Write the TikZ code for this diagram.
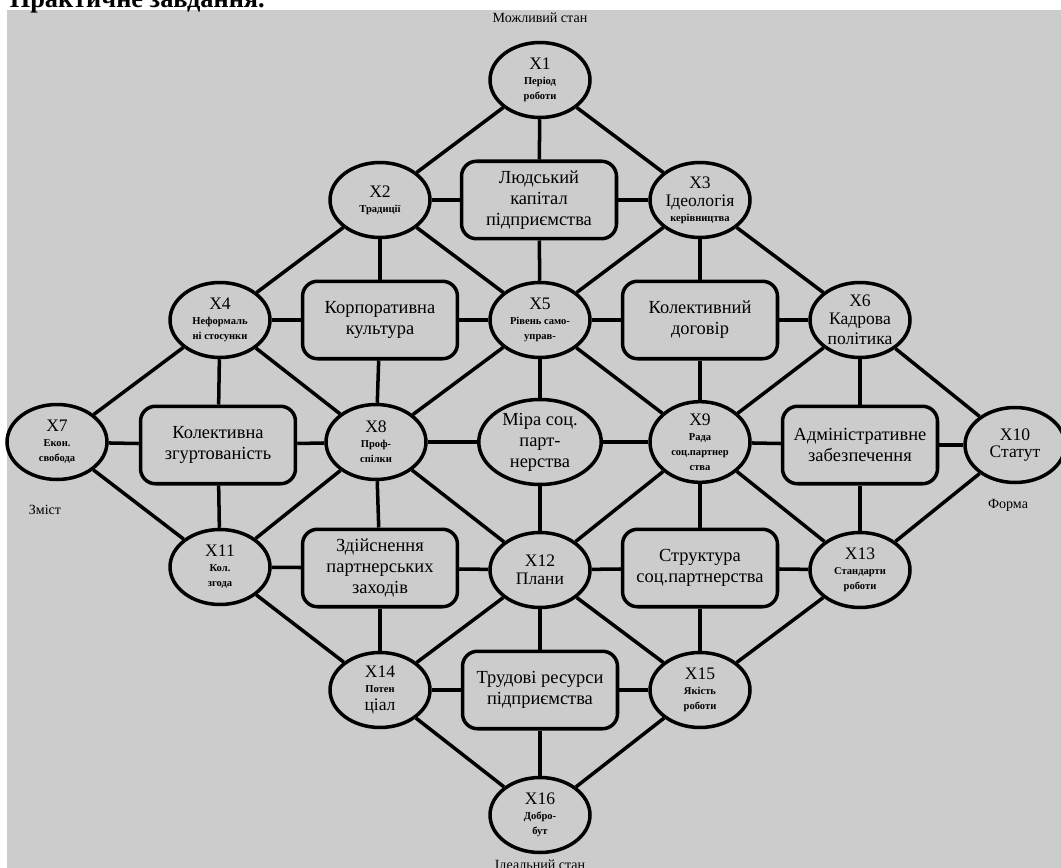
\documentclass[tikz,border=0pt]{standalone}
\usepackage{fontspec}
\setmainfont{Liberation Serif}
\definecolor{bggrey}{HTML}{CCCCCC}
\tikzset{
  state/.style = {ellipse, draw, fill=bggrey, minimum width=2cm, minimum height=1.5cm,
                  inner sep=0pt, align=center, font=\fontsize{6}{8.6}\selectfont\bfseries},
  factor/.style = {rectangle, rounded corners=0.3cm, draw, fill=bggrey, minimum width=3.1cm,
                   minimum height=1.55cm, inner sep=1pt, align=center,
                   font=\fontsize{10.5}{12}\selectfont},
  caption/.style = {font=\fontsize{8}{9}\selectfont},
}
\newcommand{\xl}[1]{{\fontsize{10}{11}\selectfont\mdseries #1}}
\newcommand{\md}[1]{{\fontsize{10}{11}\selectfont\mdseries #1}}
\usetikzlibrary{shapes.geometric}
\begin{document}
\begin{tikzpicture} [x = 0.02cm, y = -0.02cm, line width = 2pt]

\useasboundingbox (0,0) rectangle (1061,868);
\fill [bggrey] (7,10) rectangle (1061,868);
\node [anchor=base west, inner sep=0pt, font=\fontsize{15}{17}\selectfont\bfseries] (title) at (8,8) {Практичне завдання.};

\node [caption] (top) at (540,18) {Можливий стан};
\node [caption] (bottom) at (540,866) {Ідеальний стан};
\node [caption] (content) at (45,510) {Зміст};
\node [caption] (form) at (1008,505) {Форма};

% circles
\node [state] (x1) at (540,80) {\xl{X1}\\Період\\роботи};
\node [state] (x2) at (380,200) {\xl{X2}\\Традиції};
\node [state] (x3) at (700,200) {\xl{X3}\\[1.5pt]\md{Ідеологія}\\керівництва};
\node [state] (x4) at (220,320) {\xl{X4}\\Неформаль\\ні стосунки};
\node [state] (x5) at (540,320) {\xl{X5}\\Рівень само-\\управ-};
\node [state] (x6) at (860,320) {\xl{X6}\\[1.5pt]\md{Кадрова}\\[1.5pt]\md{політика}};
\node [state] (x7) at (57,442) {\xl{X7}\\Екон.\\свобода};
\node [state] (x8) at (376,442) {\xl{X8}\\Проф-\\спілки};
\node [state] (x9) at (700,442) {\xl{X9}\\Рада\\соц.партнер\\ства};
\node [state] (x10) at (1015,445) {\xl{X10}\\[1.5pt]\md{Статут}};
\node [state] (x11) at (220,567) {\xl{X11}\\Кол.\\згода};
\node [state] (x12) at (540,570) {\xl{X12}\\[1.5pt]\md{Плани}};
\node [state] (x13) at (860,570) {\xl{X13}\\Стандарти\\роботи};
\node [state] (x14) at (380,690) {\xl{X14}\\Потен\\[1.5pt]\md{ціал}};
\node [state] (x15) at (700,690) {\xl{X15}\\Якість\\роботи};
\node [state] (x16) at (540,815) {\xl{X16}\\Добро-\\бут};

% boxes
\node [factor] (capital) at (539,200) {Людський\\капітал\\підприємства};
\node [factor] (culture) at (380,320) {Корпоративна\\культура};
\node [factor] (contract) at (700,320) {Колективний\\договір};
\node [factor] (unity) at (218,445) {Колективна\\згуртованість};
\node [state, minimum width=2.45cm, minimum height=1.7cm, font=\fontsize{10.5}{12}\selectfont] (measure) at (540,442) {Міра соц.\\парт-\\нерства};
\node [factor] (admin) at (860,445) {Адміністративне\\забезпечення};
\node [factor] (actions) at (380,568) {Здійснення\\партнерських\\заходів};
\node [factor] (structure) at (700,568) {Структура\\соц.партнерства};
\node [factor] (labour) at (540,690) {Трудові ресурси\\підприємства};

% circle to circle
\path (x1) edge (x2);
\path (x1) edge (x3);
\path (x2) edge (x4);
\path (x2) edge (x5);
\path (x3) edge (x5);
\path (x3) edge (x6);
\path (x4) edge (x7);
\path (x4) edge (x8);
\path (x5) edge (x8);
\path (x5) edge (x9);
\path (x6) edge (x9);
\path (x6) edge (x10);
\path (x7) edge (x11);
\path (x8) edge (x11);
\path (x8) edge (x12);
\path (x9) edge (x12);
\path (x9) edge (x13);
\path (x10) edge (x13);
\path (x11) edge (x14);
\path (x12) edge (x14);
\path (x12) edge (x15);
\path (x13) edge (x15);
\path (x14) edge (x16);
\path (x15) edge (x16);

% boxes to circles
\path (capital) edge (x1) edge (x5) edge (x2) edge (x3);
\path (culture) edge (x2) edge (x8) edge (x4) edge (x5);
\path (contract) edge (x3) edge (x9) edge (x5) edge (x6);
\path (unity) edge (x4) edge (x11) edge (x7) edge (x8);
\path (measure) edge (x5) edge (x12) edge (x8) edge (x9);
\path (admin) edge (x6) edge (x13) edge (x9) edge (x10);
\path (actions) edge (x8) edge (x14) edge (x11) edge (x12);
\path (structure) edge (x9) edge (x15) edge (x12) edge (x13);
\path (labour) edge (x12) edge (x16) edge (x14) edge (x15);

\end{tikzpicture}
\end{document}
